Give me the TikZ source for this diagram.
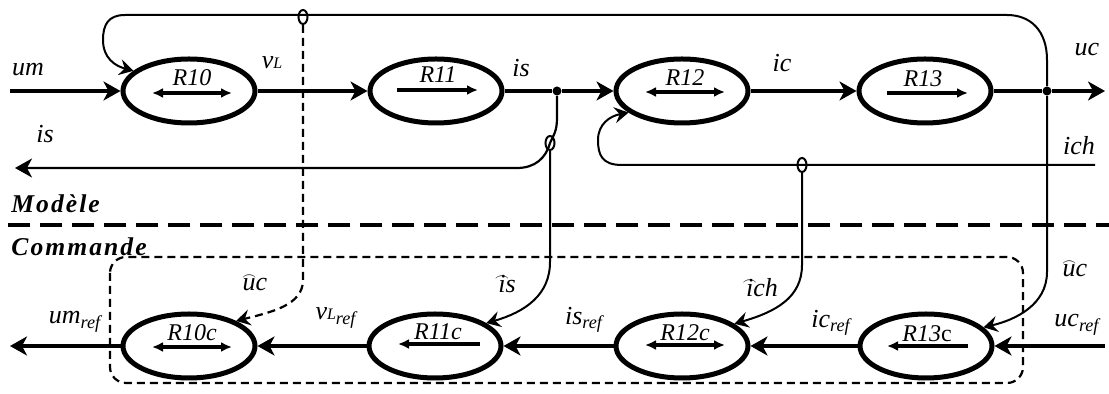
\documentclass[tikz,border=0pt]{standalone}
\usepackage{fontspec}
\setmainfont{Liberation Serif}
\usetikzlibrary{arrows.meta,shapes.geometric}
\newcommand\arcd[1]{\ooalign{#1\cr\hidewidth\raisebox{1.0ex}{$\scriptscriptstyle\frown$}\hidewidth\cr}}
\newcommand\refsub{\textsubscript{\textit{ref}}}
\begin{document}
\begin{tikzpicture}[x=0.5pt,y=-0.5pt,
 blk/.style={ellipse,draw,line width=2.5pt,minimum width=66pt,minimum height=32pt,inner sep=0pt},
 sig/.style={line width=1.6pt,-{Stealth[length=8.5pt,width=9.5pt,inset=2.5pt]}},
 plain/.style={line width=1.6pt},
 fb/.style={line width=1pt,-{Stealth[length=7pt,width=8pt,inset=2.5pt]}},
 thinl/.style={line width=1.1pt},
 inarr/.style={line width=1.6pt,{Latex[length=5.5pt,width=5pt]}-{Latex[length=5.5pt,width=5pt]}},
 inar/.style={line width=1.6pt,-{Latex[length=5.5pt,width=5pt]}},
 lab/.style={font=\fontsize{13}{15}\selectfont\itshape, inner sep=0pt},
 rlab/.style={font=\fontsize{12}{14}\selectfont\itshape, inner sep=0pt},
 ttl/.style={font=\fontsize{12.8}{15}\selectfont\bfseries\itshape\addfontfeatures{LetterSpace=8}, inner sep=0pt, anchor=west},
 tap/.style={ellipse,draw,line width=1pt,minimum width=4.5pt,minimum height=7pt,inner sep=0pt},
 jdot/.style={circle,fill,inner sep=0pt,minimum size=4.5pt},
 dsh/.style={dash pattern=on 4pt off 2.5pt}]
\useasboundingbox (0,0) rectangle (1109,394);

% blocks
\node[blk] (r10) at (189,91) {};
\node[blk] (r11) at (436,91) {};
\node[blk] (r12) at (682,91) {};
\node[blk] (r13) at (925,91) {};
\node[blk] (r10c) at (189,346) {};
\node[blk] (r11c) at (435,346) {};
\node[blk] (r12c) at (682,346) {};
\node[blk] (r13c) at (926,346) {};

\node[rlab] (t10) at (192,78) {R10};
\node[rlab] (t11) at (438,75) {R11};
\node[rlab] (t12) at (685,78) {R12};
\node[rlab] (t13) at (923,79) {R13};
\node[rlab] (t10c) at (192,333) {R10c};
\node[rlab] (t11c) at (438,332) {R11c};
\node[rlab] (t12c) at (685,333) {R12c};
\node[rlab] (t13c) at (927,334) {R13\textup{c}};

\draw[inarr] (152,93) -- (232,93);
\draw[inar] (397,90) -- (478,90);
\draw[inarr] (645,92) -- (725,92);
\draw[inar] (887,93) -- (968,93);
\draw[inarr] (152,347) -- (232,347);
\draw[inar] (480,344) -- (398,344);
\draw[inarr] (645,345) -- (725,345);
\draw[inar] (968,346) -- (887,346);

% model forward path
\coordinate (umin) at (10,91);
\coordinate (ucout) at (1105,91);
\node[jdot] (j1) at (557,91) {};
\node[jdot] (j2) at (1047,91) {};
\draw[sig] (umin) -- (r10.west);
\draw[sig] (r10.east) -- (r11.west);
\draw[plain] (r11.east) -- (j1);
\draw[sig] (j1) -- (r12.west);
\draw[sig] (r12.east) -- (r13.west);
\draw[plain] (r13.east) -- (j2);
\draw[sig] (j2) -- (ucout);

% top feedback uc -> R10
\draw[fb] (j2) -- (1047,60) .. controls (1047,30) and (1030,15) .. (1007,15) -- (125,15)
  .. controls (108,15) and (103,25) .. (103,40) .. controls (103,58) and (115,66) .. (r10.160);

% dashed uc-hat to R10c
\node[tap] (tp0) at (303,17) {};
\draw[fb,dsh,line width=1.1pt] (tp0.south) -- (303,280) .. controls (303,305) and (272,312) .. (r10c.28);

% is return
\node[tap] (tp1) at (550,143) {};
\coordinate (isout) at (15,168);
\draw[thinl,-{Stealth[length=8.5pt,width=9.5pt,inset=2.5pt]}] (j1) -- (557,118)
  .. controls (557,132) and (553,136) .. (tp1.center) .. controls (546,158) and (535,168) .. (517,168) -- (isout);
\draw[fb] (tp1.south) -- (550,262) .. controls (550,295) and (525,312) .. (r11c.24);

% ich
\coordinate (ichin) at (1095,165);
\node[tap] (tp2) at (802,165) {};
\draw[fb] (ichin) -- (622,165) .. controls (602,165) and (598,155) .. (598,140)
  .. controls (598,124) and (610,116) .. (r12.202);
\draw[fb] (tp2.south) -- (802,265) .. controls (802,298) and (775,312) .. (r12c.23);

% uc hat to R13c
\draw[fb] (j2) -- (1047,272) .. controls (1047,305) and (1015,320) .. (r13c.18);

% command chain
\coordinate (ucref) at (1105,346);
\coordinate (umref) at (10,346);
\draw[sig] (ucref) -- (r13c.east);
\draw[sig] (r13c.west) -- (r12c.east);
\draw[sig] (r12c.west) -- (r11c.east);
\draw[sig] (r11c.west) -- (r10c.east);
\draw[sig] (r10c.west) -- (umref);

% separators
\draw[line width=2.3pt,dash pattern=on 11pt off 5pt] (8,225) -- (1109,225);
\draw[line width=1.1pt,dsh,rounded corners=8pt] (110,257) rectangle (1023,383);

\node[ttl] (mod) at (11,204) {Modèle};
\node[ttl] (com) at (11,247) {Commande};

% labels
\node[lab] (lum) at (28,70) {um};
\node[lab] (lvl) at (272,63) {v{\footnotesize L}};
\node[lab] (lis) at (521,68) {is};
\node[lab] (lic) at (782,63) {ic};
\node[lab] (luc) at (1087,50) {uc};
\node[lab] (lich) at (1079,146) {ich};
\node[lab] (lis2) at (45,134) {is};
\node[lab] (lhuc) at (255,285) {\arcd{u}c};
\node[lab] (lhis) at (507,284) {\arcd{i}s};
\node[lab] (lhich) at (762,288) {\arcd{i}ch};
\node[lab] (lhuc2) at (1075,271) {\arcd{u}c};
\node[lab] (lumr) at (75,322) {um\refsub};
\node[lab] (lvlr) at (336,318) {v{\footnotesize L}\refsub};
\node[lab] (lisr) at (584,320) {is\refsub};
\node[lab] (licr) at (831,323) {ic\refsub};
\node[lab] (lucr) at (1077,325) {uc\refsub};
\end{tikzpicture}
\end{document}
